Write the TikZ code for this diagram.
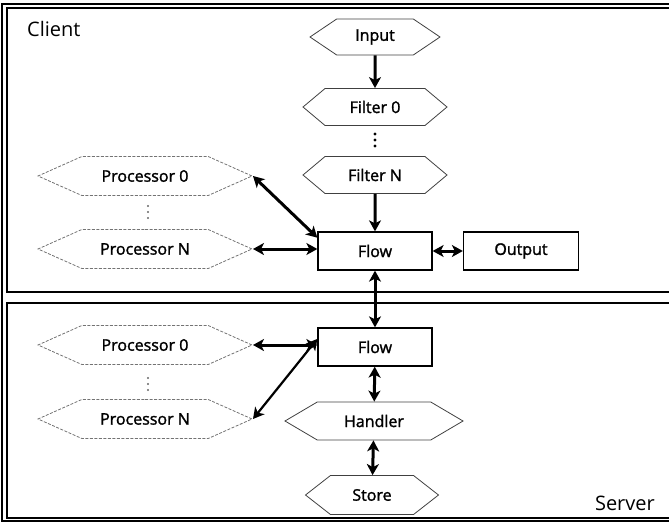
\documentclass[tikz,border=0pt]{standalone}
\usepackage{fontspec}
\setmainfont{Open Sans}
\newfontfamily\nodefont{Open Sans}[UprightFeatures={FakeBold=1.6}]
\usetikzlibrary{arrows.meta}
\usetikzlibrary{shapes.symbols}

\begin{document}
\begin{tikzpicture}[x=1pt,y=-1pt]
\tikzstyle{every node}=[font=\nodefont\fontsize{16}{19}\selectfont, inner sep=0pt]
\tikzstyle{hexa}=[signal, signal to=east and west, draw=black!75, line width=0.8pt]
\tikzstyle{proc}=[hexa, draw=black!55, dash pattern=on 3pt off 1.5pt, minimum width=214pt, minimum height=39pt, signal pointer angle=48]
\tikzstyle{box}=[draw, line width=1.3pt, minimum width=114pt, minimum height=38pt]
\tikzstyle{frame}=[line width=1.3pt]
\tikzstyle{link}=[line width=3pt, {Stealth[length=11pt,width=12pt,inset=3pt]}-{Stealth[length=11pt,width=12pt,inset=3pt]}]
\tikzstyle{flow}=[line width=3pt, -{Stealth[length=11pt,width=12pt,inset=3pt]}]
\useasboundingbox (0,0) rectangle (669,524);

% frames
\draw[frame] (669,4) -| (2,521) -- (669,521);
\draw[frame] (669,8) -| (7,292) -- (669,292);
\draw[frame] (669,303) -| (7,518) -- (669,518);
\node[anchor=west, font=\fontsize{20}{24}\selectfont] (client) at (27,29) {Client};
\node[anchor=east, font=\fontsize{20}{24}\selectfont] (server) at (655,503) {Server};

% client side
\node[hexa, minimum width=130pt, minimum height=36pt, signal pointer angle=68] (in) at (375,37) {Input};
\node[hexa, minimum width=144pt, minimum height=37pt, signal pointer angle=80] (f0) at (375,107) {Filter 0};
\node[hexa, minimum width=144pt, minimum height=37pt, signal pointer angle=80] (fn) at (375,175) {Filter N};
\node[box] (flowc) at (375,251) {Flow};
\node[box, minimum width=115pt] (out) at (521,251) {Output};
\node[proc] (p0c) at (145,176) {Processor 0};
\node[proc] (pnc) at (145,249) {Processor N};

% server side
\node[box] (flows) at (375,347) {Flow};
\node[proc] (p0s) at (145,345) {Processor 0};
\node[proc] (pns) at (145,419) {Processor N};
\node[hexa, minimum width=178pt, minimum height=38pt, signal pointer angle=61] (hnd) at (374,421) {Handler};
\node[hexa, minimum width=133pt, minimum height=39pt, signal pointer angle=76] (st) at (372,495) {Store};

% dots
\foreach \y in {134,140,146} \fill (375,\y) circle (1.6pt);
\foreach \y in {206,212,218} \fill[black!60] (148,\y) circle (1.1pt);
\foreach \y in {378,384,390} \fill[black!60] (148,\y) circle (1.1pt);

\draw[flow] (in) -- (f0);
\draw[flow] (fn) -- (flowc);
\draw[link] (p0c.east) -- (flowc.167);
\draw[link] (pnc.east) -- (flowc.west |- pnc.east);
\draw[link] (flowc) -- (out);
\draw[link] (flowc) -- (flows);
\draw[link] (p0s.east) -- (flows.west |- p0s.east);
\draw[link, line width=2.2pt] (flows.172) -- (pns.east);
\draw[link] (flows) -- (hnd);
\draw[link] (hnd) -- (st);
\end{tikzpicture}
\end{document}
